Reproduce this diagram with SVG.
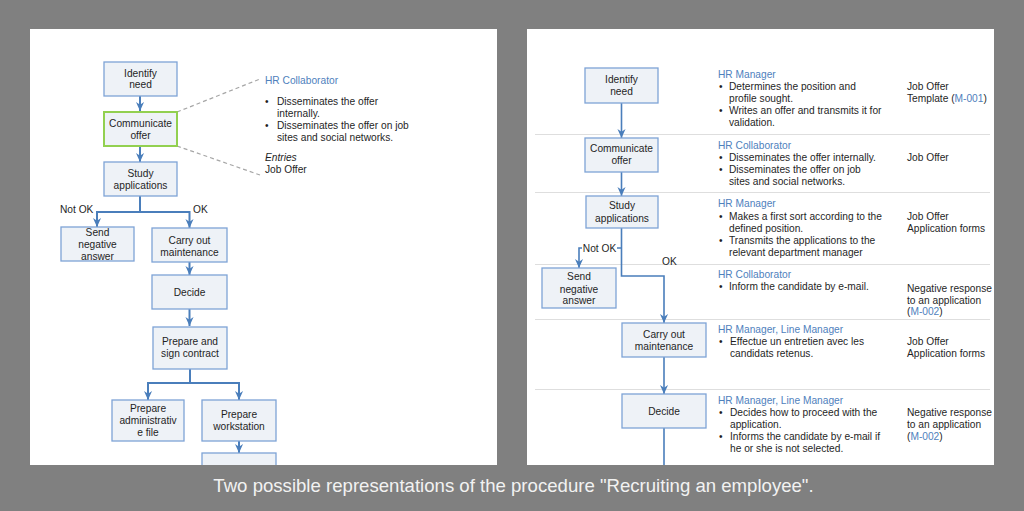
<svg xmlns="http://www.w3.org/2000/svg" width="1024" height="511" viewBox="0 0 1024 511">
<defs>
<style>
.t{font-family:"Liberation Sans",Arial,sans-serif;font-size:10.2px;fill:#1f1f1f}
.c{text-anchor:middle}
.h{fill:#4f81bd}
.box{fill:#eef2f7;stroke:#7ea3d6;stroke-width:1.3}
.green{stroke:#92d050;stroke-width:2}
.edge{fill:none;stroke:#4a7ebb;stroke-width:2}
.edge2{fill:none;stroke:#4a7ebb;stroke-width:1.6}
.sep{stroke:#dedede;stroke-width:1.2}
.dash{stroke:#a6a6a6;stroke-width:1.2;stroke-dasharray:4 3;fill:none}
</style>
<marker id="ah" viewBox="0 0 10 10" refX="10" refY="5" markerWidth="9" markerHeight="9" markerUnits="userSpaceOnUse" orient="auto">
<path d="M0,0.5 L10,5 L0,9.5 L3,5 z" fill="#4a7ebb"/>
</marker>
</defs>
<rect x="0" y="0" width="1024" height="511" fill="#808080"/>
<rect x="30" y="29" width="467" height="440" fill="#ffffff"/>
<rect x="527" y="29" width="467" height="440" fill="#ffffff"/>

<!-- right panel separators -->
<g id="separators">
<line class="sep" x1="535" y1="134.5" x2="990" y2="134.5"/>
<line class="sep" x1="535" y1="192.5" x2="990" y2="192.5"/>
<line class="sep" x1="535" y1="264.5" x2="990" y2="264.5"/>
<line class="sep" x1="535" y1="319.5" x2="990" y2="319.5"/>
<line class="sep" x1="535" y1="389.5" x2="990" y2="389.5"/>
</g>

<g id="connectors">
<!-- left -->
<line class="edge" x1="140" y1="96" x2="140" y2="111" marker-end="url(#ah)"/>
<line class="edge" x1="140" y1="146" x2="140" y2="162" marker-end="url(#ah)"/>
<path class="edge" d="M140,196 V212 H97 V227" marker-end="url(#ah)"/>
<path class="edge" d="M140,212 H189.5 V228" marker-end="url(#ah)"/>
<line class="edge" x1="189.5" y1="262" x2="189.5" y2="275" marker-end="url(#ah)"/>
<line class="edge" x1="189.5" y1="309" x2="189.5" y2="326" marker-end="url(#ah)"/>
<path class="edge" d="M190,369 V383 H148 V400" marker-end="url(#ah)"/>
<path class="edge" d="M190,383 H239 V400" marker-end="url(#ah)"/>
<line class="edge" x1="239" y1="441" x2="239" y2="453" marker-end="url(#ah)"/>
<line class="dash" x1="177" y1="112" x2="260" y2="79"/>
<line class="dash" x1="177" y1="146" x2="260" y2="175"/>
<!-- right -->
<line class="edge2" x1="621.5" y1="103" x2="621.5" y2="138" marker-end="url(#ah)"/>
<line class="edge2" x1="621.5" y1="172" x2="621.5" y2="196" marker-end="url(#ah)"/>
<path class="edge2" d="M621.5,228 V276 H664 V323" marker-end="url(#ah)"/>
<path class="edge2" d="M621.5,248 H579 V268" marker-end="url(#ah)"/>
<line class="edge2" x1="664" y1="357" x2="664" y2="394" marker-end="url(#ah)"/>
<line class="edge2" x1="664" y1="428" x2="664" y2="470"/>
</g>

<!-- left panel nodes -->
<g id="l-identify"><rect class="box" x="104" y="62" width="73" height="34"/><text class="t c" x="140.5" y="76.6">Identify</text><text class="t c" x="140.5" y="88">need</text></g>
<g id="l-communicate"><rect class="box green" x="104" y="112" width="73" height="34"/><text class="t c" x="140.5" y="126.6">Communicate</text><text class="t c" x="140.5" y="138.6">offer</text></g>
<g id="l-study"><rect class="box" x="104" y="162" width="73" height="34"/><text class="t c" x="140.5" y="176.6">Study</text><text class="t c" x="140.5" y="188.6">applications</text></g>
<g id="l-labels"><text class="t" x="60" y="213">Not OK</text><text class="t" x="193" y="213">OK</text></g>
<g id="l-send"><rect class="box" x="61" y="227" width="73" height="34"/><text class="t c" x="97.5" y="236">Send</text><text class="t c" x="97.5" y="248">negative</text><text class="t c" x="97.5" y="260">answer</text></g>
<g id="l-carry"><rect class="box" x="152" y="228" width="75" height="34"/><text class="t c" x="189.5" y="243.6">Carry out</text><text class="t c" x="189.5" y="255.6">maintenance</text></g>
<g id="l-decide"><rect class="box" x="152" y="275" width="75" height="34"/><text class="t c" x="189.5" y="295.6">Decide</text></g>
<g id="l-contract"><rect class="box" x="153" y="327" width="74" height="42"/><text class="t c" x="190" y="344.6">Prepare and</text><text class="t c" x="190" y="356.6">sign contract</text></g>
<g id="l-admin"><rect class="box" x="112" y="400" width="72" height="41"/><text class="t c" x="148" y="411.6">Prepare</text><text class="t c" x="148" y="424">administrativ</text><text class="t c" x="148" y="436">e file</text></g>
<g id="l-workstation"><rect class="box" x="202" y="400" width="74" height="41"/><text class="t c" x="239" y="417.6">Prepare</text><text class="t c" x="239" y="430">workstation</text></g>
<g id="l-next"><rect class="box" x="202" y="453" width="74" height="30"/></g>
<g id="l-detail">
<text class="t h" x="265" y="84">HR Collaborator</text>
<text class="t" x="265" y="105.3">•</text><text class="t" x="277" y="105.3">Disseminates the offer</text>
<text class="t" x="277" y="117.2">internally.</text>
<text class="t" x="265" y="129.1">•</text><text class="t" x="277" y="129.1">Disseminates the offer on job</text>
<text class="t" x="277" y="141">sites and social networks.</text>
<text class="t" x="265" y="161" font-style="italic">Entries</text>
<text class="t" x="265" y="173">Job Offer</text>
</g>

<!-- right panel nodes -->
<g id="r-identify"><rect class="box" x="585" y="68" width="73" height="35"/><text class="t c" x="621.5" y="82.6">Identify</text><text class="t c" x="621.5" y="94.6">need</text></g>
<g id="r-communicate"><rect class="box" x="585" y="138" width="73" height="34"/><text class="t c" x="621.5" y="151.6">Communicate</text><text class="t c" x="621.5" y="163.6">offer</text></g>
<g id="r-study"><rect class="box" x="586" y="196" width="72" height="32"/><text class="t c" x="622" y="208.6">Study</text><text class="t c" x="622" y="221.6">applications</text></g>
<g id="r-labels"><rect x="582" y="242" width="35" height="12" fill="#ffffff"/><text class="t c" x="599.5" y="251.6">Not OK</text><text class="t" x="662" y="264.6">OK</text></g>
<g id="r-send"><rect class="box" x="542" y="268" width="74" height="40"/><text class="t c" x="579" y="279.6">Send</text><text class="t c" x="579" y="292.6">negative</text><text class="t c" x="579" y="303.6">answer</text></g>
<g id="r-carry"><rect class="box" x="622" y="323" width="84" height="34"/><text class="t c" x="664" y="337.6">Carry out</text><text class="t c" x="664" y="349.6">maintenance</text></g>
<g id="r-decide"><rect class="box" x="622" y="394" width="84" height="34"/><text class="t c" x="664" y="414.6">Decide</text></g>

<g id="r-row1">
<text class="t h" x="718" y="78">HR Manager</text>
<text class="t" x="719" y="90">•</text><text class="t" x="729" y="90">Determines the position and</text>
<text class="t" x="729" y="102">profile sought.</text>
<text class="t" x="719" y="114">•</text><text class="t" x="729" y="114">Writes an offer and transmits it for</text>
<text class="t" x="729" y="126">validation.</text>
<text class="t" x="907" y="90">Job Offer</text>
<text class="t" x="907" y="102">Template (<tspan class="h">M-001</tspan>)</text>
</g>
<g id="r-row2">
<text class="t h" x="718" y="149">HR Collaborator</text>
<text class="t" x="719" y="161">•</text><text class="t" x="729" y="161">Disseminates the offer internally.</text>
<text class="t" x="719" y="173">•</text><text class="t" x="729" y="173">Disseminates the offer on job</text>
<text class="t" x="729" y="185">sites and social networks.</text>
<text class="t" x="907" y="161">Job Offer</text>
</g>
<g id="r-row3">
<text class="t h" x="718" y="207">HR Manager</text>
<text class="t" x="719" y="220">•</text><text class="t" x="729" y="220">Makes a first sort according to the</text>
<text class="t" x="729" y="232">defined position.</text>
<text class="t" x="719" y="244">•</text><text class="t" x="729" y="244">Transmits the applications to the</text>
<text class="t" x="729" y="256">relevant department manager</text>
<text class="t" x="907" y="220">Job Offer</text>
<text class="t" x="907" y="232">Application forms</text>
</g>
<g id="r-row4">
<text class="t h" x="718" y="278">HR Collaborator</text>
<text class="t" x="719" y="290">•</text><text class="t" x="729" y="290">Inform the candidate by e-mail.</text>
<text class="t" x="907" y="291.5">Negative response</text>
<text class="t" x="907" y="303.5">to an application</text>
<text class="t" x="907" y="315">(<tspan class="h">M-002</tspan>)</text>
</g>
<g id="r-row5">
<text class="t h" x="718" y="333">HR Manager, Line Manager</text>
<text class="t" x="719" y="345">•</text><text class="t" x="730" y="345">Effectue un entretien avec les</text>
<text class="t" x="730" y="357">candidats retenus.</text>
<text class="t" x="907" y="345">Job Offer</text>
<text class="t" x="907" y="357">Application forms</text>
</g>
<g id="r-row6">
<text class="t h" x="718" y="404">HR Manager, Line Manager</text>
<text class="t" x="719" y="416">•</text><text class="t" x="730" y="416">Decides how to proceed with the</text>
<text class="t" x="730" y="428">application.</text>
<text class="t" x="719" y="440">•</text><text class="t" x="730" y="440">Informs the candidate by e-mail if</text>
<text class="t" x="730" y="452">he or she is not selected.</text>
<text class="t" x="907" y="416">Negative response</text>
<text class="t" x="907" y="428">to an application</text>
<text class="t" x="907" y="440">(<tspan class="h">M-002</tspan>)</text>
</g>

<rect x="0" y="465" width="1024" height="46" fill="#808080"/>
<text x="513.5" y="492" font-family="'Liberation Sans',Arial,sans-serif" font-size="18.6" fill="#f2f2f2" text-anchor="middle">Two possible representations of the procedure "Recruiting an employee".</text>
</svg>
